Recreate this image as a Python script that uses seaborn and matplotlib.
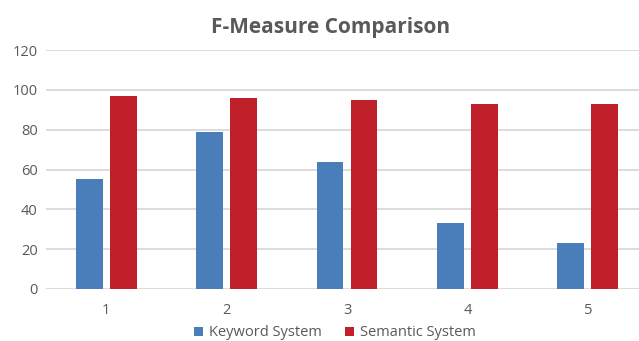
import matplotlib
matplotlib.use("Agg")
import matplotlib.pyplot as plt
import pandas as pd
import seaborn as sns

# Chart data
categories = ["1", "2", "3", "4", "5"]
keyword_system = [55, 79, 64, 33, 23]
semantic_system = [97, 96, 95, 93, 93]
series_names = ["Keyword System", "Semantic System"]
y_ticks = [0, 20, 40, 60, 80, 100, 120]

df = pd.DataFrame({
    "category": categories * 2,
    "value": keyword_system + semantic_system,
    "series": [series_names[0]] * len(categories) + [series_names[1]] * len(categories),
})

sns.set_theme(style="white")
plt.rcParams["font.family"] = ["Open Sans", "DejaVu Sans"]

TEXT = "#595959"
GRID = "#D9D9D9"
palette = {series_names[0]: "#4A7EBB", series_names[1]: "#C0202A"}

W, H = 639, 341
fig = plt.figure(figsize=(W / 100, H / 100), dpi=100)
# plot area runs slightly past the right border of the image
left_px, right_px, top_px, bottom_px = 46, 648, 50, 289
ax = fig.add_axes([left_px / W, 1 - bottom_px / H,
                   (right_px - left_px) / W, (bottom_px - top_px) / H])

sns.barplot(data=df, x="category", y="value", hue="series", palette=palette,
            saturation=1, width=0.565, gap=0.21, ax=ax, legend=True, zorder=3,
            edgecolor="none")

ax.set_xlim(-0.5, 4.5)
ax.set_ylim(0, 120)
ax.set_yticks(y_ticks)
ax.set_xlabel("")
ax.set_ylabel("")
ax.yaxis.grid(True, color=GRID, linewidth=1.3, zorder=0)
ax.set_axisbelow(True)
for s in ax.spines.values():
    s.set_visible(False)
ax.tick_params(axis="y", length=0, pad=6, labelsize=10.5, labelcolor=TEXT)
ax.tick_params(axis="x", length=0, pad=10, labelsize=10.5, labelcolor=TEXT)

handles, labels = ax.get_legend_handles_labels()
ax.get_legend().remove()
fig.legend(handles, labels, loc="center", bbox_to_anchor=(335 / W, 1 - 333 / H),
           ncol=2, frameon=False, fontsize=10.5, labelcolor=TEXT,
           handlelength=0.6, handleheight=0.6, handletextpad=0.4,
           columnspacing=1.6, borderpad=0)

fig.text(331 / W, 1 - 27 / H, "F-Measure Comparison", ha="center", va="center",
         fontsize=15, fontweight="bold", color=TEXT)

fig.savefig("out.png", dpi=100, facecolor="white")
